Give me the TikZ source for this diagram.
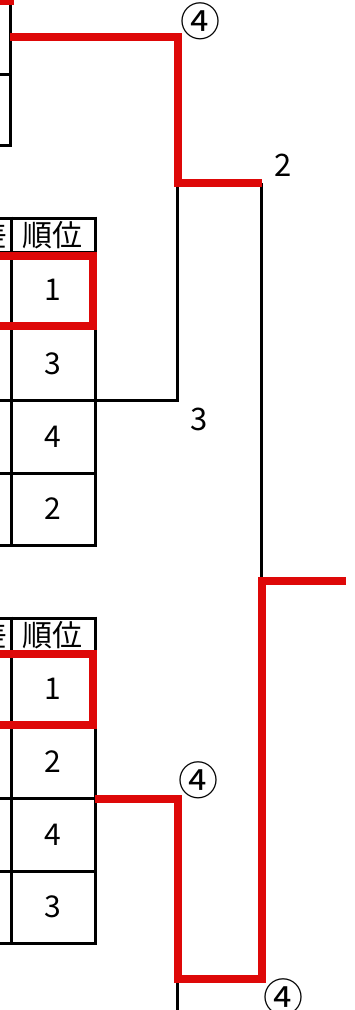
\documentclass[tikz,border=0pt]{standalone}
\usepackage{fontspec}
\newfontfamily\jp{Noto Sans CJK JP}
\definecolor{tred}{RGB}{222,8,8}
\begin{document}
\begin{tikzpicture}[x=1pt,y=-1pt,
  grid/.style={line width=3pt, black},
  blk/.style={line width=3pt, black},
  redline/.style={line width=8pt, tred, line join=miter},
  lbl/.style={font=\jp\fontsize{31}{31}\selectfont, inner sep=0pt},
  circ/.style={font=\jp\fontsize{40}{40}\selectfont, inner sep=0pt},
  cell/.style={font=\jp\fontsize{30}{30}\selectfont, inner sep=0pt}]
\useasboundingbox (0,0) rectangle (354,1010);

% ---------- top table (mostly off picture) ----------
\draw[grid] (10,-20) -- (10,147);
\draw[grid] (0,74) -- (10,74);
\draw[grid] (0,145) -- (10,145);
\draw[redline] (-40,-60) rectangle (10,1);

% ---------- middle table ----------
\foreach \y in {218,252,327,400,473,545} \draw[grid] (-5,\y) -- (95,\y);
\draw[grid] (11,216.5) -- (11,546.5);
\draw[grid] (95,216.5) -- (95,546.5);
\node[cell] (mh0) at (-7,235) {差};
\node[cell] (mh) at (53,235) {順位};
\node[cell] (m1) at (53,289.5) {1};
\node[cell] (m2) at (53,363.5) {3};
\node[cell] (m3) at (53,436.5) {4};
\node[cell] (m4) at (53,509) {2};
\draw[redline] (-40,256) rectangle (93,326);

% ---------- bottom table ----------
\foreach \y in {618,652,725,798,871,943} \draw[grid] (-5,\y) -- (95,\y);
\draw[grid] (11,616.5) -- (11,944.5);
\draw[grid] (95,616.5) -- (95,944.5);
\node[cell] (bh0) at (-7,635) {差};
\node[cell] (bh) at (53,635) {順位};
\node[cell] (b1) at (53,688.5) {1};
\node[cell] (b2) at (53,761.5) {2};
\node[cell] (b3) at (53,834.5) {4};
\node[cell] (b4) at (53,907) {3};
\draw[redline] (-40,654) rectangle (93,725);

% ---------- bracket coordinates ----------
\coordinate (topOut) at (10,37);
\coordinate (topCorner) at (178,37);
\coordinate (sf1) at (178,183);
\coordinate (sf1r) at (262,183);
\coordinate (midOut) at (95,400);
\coordinate (midCorner) at (177,400);
\coordinate (sf1b) at (177,183);
\coordinate (fin) at (262,581);
\coordinate (finEnd) at (346,581);
\coordinate (botOut) at (95,799);
\coordinate (botCorner) at (178,799);
\coordinate (sf2) at (178,979);
\coordinate (sf2r) at (262,979);
\coordinate (sf2b) at (177,979);
\coordinate (sf2down) at (177,1015);
\coordinate (rtop) at (261,183);
\coordinate (rfin) at (261,581);

% black lines
\draw[blk] (midOut) -- (midCorner) -- (sf1b);
\draw[blk] (rtop) -- (rfin);
\draw[blk] (sf2b) -- (sf2down);

% red winning lines
\draw[redline] (topOut) -- (topCorner) -- (sf1) -- (sf1r);
\draw[redline] (botOut) -- (botCorner) -- (sf2) -- (sf2r) -- (fin) -- (finEnd);

% labels
\node[circ] (c1) at (200,21) {④};
\node[lbl] (l2) at (283,165) {2};
\node[lbl] (l3) at (199,419) {3};
\node[circ] (c2) at (198,780) {④};
\node[circ] (c3) at (283,997) {④};
\end{tikzpicture}
\end{document}
